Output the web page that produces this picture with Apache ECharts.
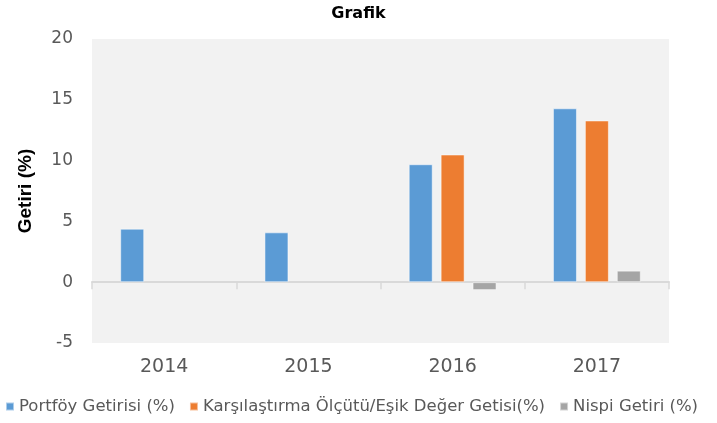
<!DOCTYPE html>
<html>
<head>
<meta charset="utf-8">
<script src="https://cdn.jsdelivr.net/npm/echarts@6/dist/echarts.min.js"></script>
<style>
  html, body { margin: 0; padding: 0; background: #fff; }
  #main { width: 717px; height: 423px; }
</style>
</head>
<body>
<div id="main"></div>
<script>
const years = ['2014', '2015', '2016', '2017'];
const portfoy = [4.4, 4.1, 9.7, 14.3];
const karsilastirma = [null, null, 10.5, 13.3];
const nispi = [null, null, -0.65, 0.95];
const seriesNames = ['Portföy Getirisi (%)', 'Karşılaştırma Ölçütü/Eşik Değer Getisi(%)', 'Nispi Getiri (%)'];
const colors = ['#5b9bd5', '#ed7d31', '#a5a5a5'];

const chart = echarts.init(document.getElementById('main'));
const font = '"DejaVu Sans", "Noto Sans", sans-serif';
const narrow = '"Liberation Sans Narrow", "Liberation Sans", sans-serif';

const makeBar = (name, data, color) => ({
  name,
  type: 'bar',
  data,
  barWidth: 24,
  barGap: '33%',
  itemStyle: { color, borderColor: 'rgba(255,255,255,0.5)', borderWidth: 1 },
});

chart.setOption({
  animation: false,
  title: {
    text: 'Grafik',
    left: 'center',
    top: 1,
    textStyle: { fontSize: 16, fontWeight: 'bold', color: '#000', fontFamily: font },
  },
  grid: {
    left: 92, right: 48, top: 39, bottom: 80,
    outerBoundsMode: 'none',
    containLabel: false,
    show: true, backgroundColor: '#f2f2f2', borderWidth: 0,
  },
  legend: {
    bottom: 3,
    left: 0,
    itemWidth: 8,
    itemHeight: 8,
    itemGap: 14,
    icon: 'rect',
    textStyle: { fontSize: 16.5, color: '#595959', fontFamily: font, padding: [0, 0, 0, 0] },
    data: seriesNames,
  },
  xAxis: {
    type: 'category',
    data: years,
    axisLine: { onZero: true, lineStyle: { color: '#d9d9d9', width: 2 } },
    axisTick: { show: true, length: 7, lineStyle: { color: '#d9d9d9', width: 1.5 } },
    axisLabel: {
      color: '#595959', fontSize: 19, fontFamily: font,
      margin: 15,
    },
  },
  yAxis: {
    type: 'value',
    min: -5,
    max: 20,
    interval: 5,
    name: 'Getiri (%)',
    nameLocation: 'middle',
    nameRotate: 90,
    nameGap: 57,
    nameTextStyle: { fontSize: 19, fontWeight: 'bold', color: '#000', fontFamily: narrow },
    axisLine: { show: false },
    axisTick: { show: false },
    splitLine: { show: false },
    axisLabel: { color: '#595959', fontSize: 17, fontFamily: font, margin: 19 },
  },
  series: [
    makeBar(seriesNames[0], portfoy, colors[0]),
    makeBar(seriesNames[1], karsilastirma, colors[1]),
    makeBar(seriesNames[2], nispi, colors[2]),
  ],
});
</script>
</body>
</html>
